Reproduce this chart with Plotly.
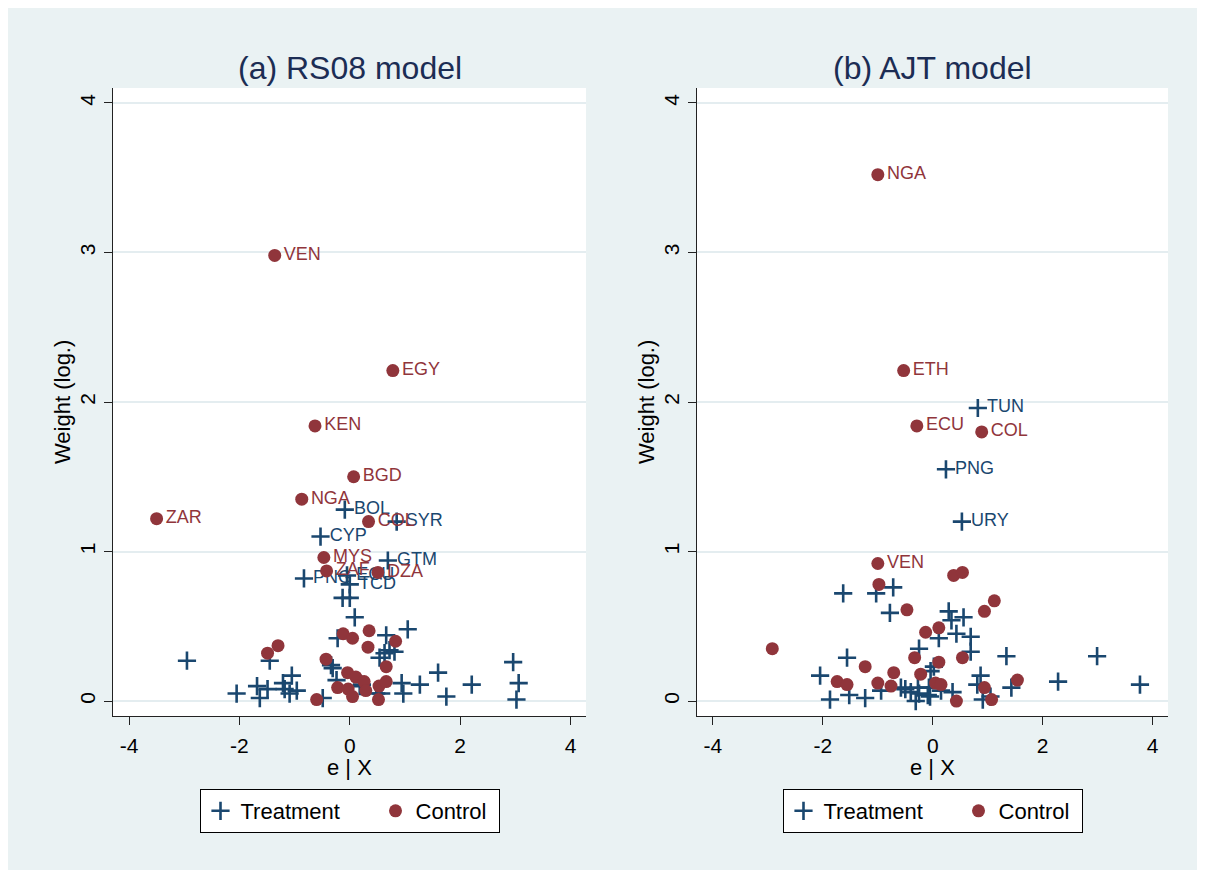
import plotly.graph_objects as go

NAVY = "#1a476f"
MAROON = "#90353b"
FONT = "Liberation Sans, Arial, Helvetica, sans-serif"

# ---------------- Panel (a) RS08 model ----------------
a_treat_x = [-0.09, 0.85, -0.53, 0.69, -0.83, -0.05, 0.00,
             -0.13, 0.00, 0.09, -2.95, -2.05, -1.68, -1.63, -1.49, -1.45, -1.21, -1.05,
             -1.18, -1.09, -0.96, -0.49, -0.34, -0.31, -0.24, -0.22, 0.22, 0.54, 0.57,
             0.63, 0.66, 0.72, 0.81, 0.94, 0.97, 1.05, 1.27, 1.60, 1.75, 2.21, 2.96,
             3.06, 3.02, 0.48, 0.18]
a_treat_y = [1.28, 1.20, 1.10, 0.94, 0.82, 0.84, 0.78,
             0.69, 0.69, 0.56, 0.27, 0.05, 0.10, 0.02, 0.08, 0.27, 0.12, 0.17,
             0.08, 0.05, 0.07, 0.02, 0.24, 0.22, 0.14, 0.42, 0.11, 0.29, 0.05,
             0.32, 0.44, 0.34, 0.33, 0.12, 0.05, 0.48, 0.11, 0.19, 0.03, 0.11, 0.26,
             0.12, 0.01, 0.05, 0.10]
a_treat_lab = ["BOL", "SYR", "CYP", "GTM", "PNG", "ECU", "TCD"] + [""] * 38

a_ctrl_x = [-1.36, 0.78, -0.63, 0.07, -0.87, -3.50, 0.34, -0.47, -0.42, 0.51,
            -1.49, -1.30, -0.60, -0.43, -0.12, 0.05, 0.35, 0.33, 0.83, 0.66,
            -0.04, 0.11, 0.26, -0.22, -0.03, 0.05, 0.29, 0.53, 0.66, 0.52]
a_ctrl_y = [2.98, 2.21, 1.84, 1.50, 1.35, 1.22, 1.20, 0.96, 0.87, 0.86,
            0.32, 0.37, 0.01, 0.28, 0.45, 0.42, 0.47, 0.36, 0.40, 0.23,
            0.19, 0.16, 0.13, 0.09, 0.08, 0.03, 0.07, 0.10, 0.13, 0.01]
a_ctrl_lab = ["VEN", "EGY", "KEN", "BGD", "NGA", "ZAR", "COL", "MYS", "ZAF", "DZA"] + [""] * 20

# ---------------- Panel (b) AJT model ----------------
b_treat_x = [0.82, 0.24, 0.53,
             -1.63, -1.03, -0.72, -0.78, 0.29, 0.34, 0.56, 0.43, 0.69, 0.11, 0.69,
             -0.25, -1.56, 1.34, 2.99, 0.02, -0.04, -2.05, 0.87, 0.81, 2.28, 3.77,
             1.43, -0.94, -0.58, -0.50, -0.40, -0.27, -0.25, -0.07, -0.09, -0.05,
             -0.31, -1.52, -1.87, -1.23, 0.36, 0.91, 1.05, 0.15]
b_treat_y = [1.96, 1.55, 1.20,
             0.72, 0.72, 0.76, 0.59, 0.60, 0.54, 0.56, 0.45, 0.43, 0.42, 0.33,
             0.35, 0.29, 0.30, 0.30, 0.23, 0.20, 0.17, 0.17, 0.11, 0.13, 0.11,
             0.09, 0.07, 0.09, 0.08, 0.06, 0.09, 0.05, 0.09, 0.04, 0.03,
             0.00, 0.04, 0.01, 0.02, 0.06, 0.01, 0.03, 0.07]
b_treat_lab = ["TUN", "PNG", "URY"] + [""] * 40

b_ctrl_x = [-1.00, -0.53, -0.29, 0.89, -1.00,
            0.38, 0.54, -0.98, -0.47, 1.12, 0.94, 0.11, -0.13, -2.92, -0.33,
            0.11, 0.54, -1.23, -0.71, -0.22, -1.74, -1.56, -1.00, -0.76, 0.05,
            0.15, 0.94, 1.54, 0.43, 1.07]
b_ctrl_y = [3.52, 2.21, 1.84, 1.80, 0.92,
            0.84, 0.86, 0.78, 0.61, 0.67, 0.60, 0.49, 0.46, 0.35, 0.29,
            0.26, 0.29, 0.23, 0.19, 0.18, 0.13, 0.11, 0.12, 0.10, 0.12,
            0.11, 0.09, 0.14, 0.00, 0.01]
b_ctrl_lab = ["NGA", "ETH", "ECU", "COL", "VEN"] + [""] * 25

x_ticks = [-4, -2, 0, 2, 4]
y_ticks = [0, 1, 2, 3, 4]
panel_titles = ["(a) RS08 model", "(b) AJT model"]
series_names = ["Treatment", "Control"]

W, H = 1190, 862
OFF = 8  # page body margin


def px_x(p):
    # page pixel -> paper fraction
    return (p - OFF) / W


def px_y(p):
    return 1 - (p - OFF) / H


fig = go.Figure()
NB = "\u00a0"


def add_panel(xa, ya, legend, tx, ty, tl, cx, cy, cl):
    fig.add_trace(go.Scatter(
        x=tx, y=ty, text=tl, mode="markers+text", name=series_names[0] + NB * 5,
        xaxis=xa, yaxis=ya, legend=legend, textposition="middle right",
        textfont=dict(color=NAVY, size=18, family=FONT),
        marker=dict(symbol="cross-thin", size=13, color=NAVY,
                    line=dict(color=NAVY, width=2.6)),
        cliponaxis=False,
    ))
    fig.add_trace(go.Scatter(
        x=cx, y=cy, text=cl, mode="markers+text", name=series_names[1] + NB,
        xaxis=xa, yaxis=ya, legend=legend, textposition="middle right",
        textfont=dict(color=MAROON, size=18, family=FONT),
        marker=dict(symbol="circle", size=13, color=MAROON, line=dict(width=0)),
        cliponaxis=False,
    ))


add_panel("x", "y", "legend", a_treat_x, a_treat_y, a_treat_lab, a_ctrl_x, a_ctrl_y, a_ctrl_lab)
add_panel("x2", "y2", "legend2", b_treat_x, b_treat_y, b_treat_lab, b_ctrl_x, b_ctrl_y, b_ctrl_lab)

left_dom = [px_x(113), px_x(586)]
right_dom = [px_x(697), px_x(1168)]
y_dom = [px_y(716), px_y(88)]

xaxis_common = dict(range=[-4.29, 4.28], tickvals=x_ticks, ticktext=[str(v) for v in x_ticks],
                    showgrid=False, zeroline=False, showline=True, linecolor="#222222",
                    linewidth=1.4, ticks="outside", ticklen=8, tickwidth=1.4, tickcolor="#222222",
                    ticklabelstandoff=3,
                    tickfont=dict(size=21, color="black", family=FONT), fixedrange=True)
yaxis_common = dict(range=[-0.1, 4.1], tickvals=y_ticks, ticktext=[str(v) for v in y_ticks],
                    showgrid=True, gridcolor="#e4edf0", gridwidth=1.6, zeroline=False,
                    showline=True, linecolor="#222222", linewidth=1.4, ticks="outside",
                    ticklen=8, tickwidth=1.4, tickcolor="#222222", tickangle=-90,
                    tickfont=dict(size=21, color="black", family=FONT), fixedrange=True)

legend_common = dict(orientation="h", xanchor="center", y=px_y(789), yanchor="top",
                     bgcolor="white", bordercolor="black", borderwidth=1,
                     font=dict(size=22, color="black", family=FONT))

fig.update_layout(
    width=W, height=H,
    margin=dict(l=0, r=0, t=0, b=0),
    paper_bgcolor="#eaf2f3",
    plot_bgcolor="white",
    font=dict(family=FONT, color="black"),
    xaxis=dict(domain=left_dom, anchor="y", **xaxis_common),
    yaxis=dict(domain=y_dom, anchor="x", **yaxis_common),
    xaxis2=dict(domain=right_dom, anchor="y2", **xaxis_common),
    yaxis2=dict(domain=y_dom, anchor="x2", **yaxis_common),
    legend=dict(x=(left_dom[0] + left_dom[1]) / 2, **legend_common),
    legend2=dict(x=(right_dom[0] + right_dom[1]) / 2, **legend_common),
    showlegend=True,
)

annotations = []
for dom, title in zip([left_dom, right_dom], panel_titles):
    annotations.append(dict(text=title, x=(dom[0] + dom[1]) / 2, y=px_y(68), xref="paper",
                            yref="paper", showarrow=False, xanchor="center", yanchor="middle",
                            font=dict(size=32, color="#1c2d54", family=FONT)))
    annotations.append(dict(text="e | X", x=(dom[0] + dom[1]) / 2, y=px_y(767), xref="paper",
                            yref="paper", showarrow=False, xanchor="center", yanchor="middle",
                            font=dict(size=22, color="black", family=FONT)))
    annotations.append(dict(text="Weight (log.)", x=dom[0] - 51 / W, y=(y_dom[0] + y_dom[1]) / 2,
                            xref="paper", yref="paper", showarrow=False, textangle=-90,
                            xanchor="center", yanchor="middle",
                            font=dict(size=22, color="black", family=FONT)))
fig.update_layout(annotations=annotations)

fig.write_html("out.html", config={"displayModeBar": False})
